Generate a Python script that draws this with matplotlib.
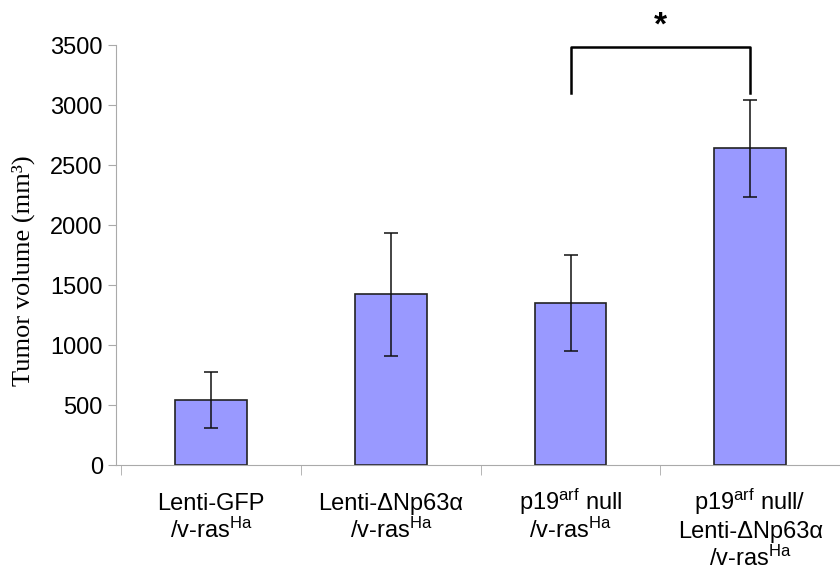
import numpy as np
import matplotlib
matplotlib.use('Agg')
import matplotlib.pyplot as plt

plt.rcParams['font.family'] = ['Liberation Sans', 'DejaVu Sans']
plt.rcParams['mathtext.fontset'] = 'custom'
plt.rcParams['mathtext.rm'] = 'Liberation Sans'
plt.rcParams['mathtext.it'] = 'Liberation Sans:italic'
plt.rcParams['mathtext.bf'] = 'Liberation Sans:bold'

# data
groups = [['Lenti-GFP', '/v-ras$^{\\mathrm{Ha}}$'],
          ['Lenti-\u0394Np63\u03b1', '/v-ras$^{\\mathrm{Ha}}$'],
          ['p19$^{\\mathrm{arf}}$ null', '/v-ras$^{\\mathrm{Ha}}$'],
          ['p19$^{\\mathrm{arf}}$ null/', 'Lenti-\u0394Np63\u03b1', '/v-ras$^{\\mathrm{Ha}}$']]
volume = [544, 1423, 1352, 2640]
err = [233, 512, 398, 403]
yticks = [0, 500, 1000, 1500, 2000, 2500, 3000, 3500]

fig = plt.figure(figsize=(8.4, 5.71), dpi=100)
ax = fig.add_axes([116/840, 106/571, 724/840, 420/571])

x = np.arange(len(groups))
ax.bar(x, volume, width=0.4, color='#9999ff', edgecolor='#222222', linewidth=1.2, zorder=2)
ax.errorbar(x, volume, yerr=err, fmt='none', ecolor='#111111', elinewidth=1.1,
            capsize=5, capthick=1.1, zorder=3)

ax.set_xlim(-0.53, 3.45)
ax.set_ylim(0, 3500)
ax.set_yticks(yticks)
ax.set_yticklabels([str(v) for v in yticks], fontsize=17)
ax.set_xticks([])
ax.set_xticks(np.arange(-0.5, 3.6, 1), minor=True)
ax.tick_params(axis='x', which='minor', length=7, color='#aaaaaa', direction='out')
ax.tick_params(axis='y', length=6, color='#aaaaaa', direction='out')

# category labels, one line at a time so every line keeps the same pitch
for i, lines in enumerate(groups):
    for j, line in enumerate(lines):
        ax.annotate(line, xy=(i, 0), xycoords=('data', 'axes fraction'),
                    xytext=(0, -32.5 - 20.2 * j), textcoords='offset points',
                    ha='center', va='baseline', fontsize=17, annotation_clip=False)

for s in ['top', 'right']:
    ax.spines[s].set_visible(False)
for s in ['left', 'bottom']:
    ax.spines[s].set_color('#aaaaaa')

ax.set_ylabel('Tumor volume (mm\u00b3)', family=['Liberation Serif'], fontsize=19)
ax.yaxis.set_label_coords(-0.112, 0.462)

# significance bracket between the last two groups
ax.plot([2, 2, 3, 3], [3100, 3480, 3480, 3100], color='black', lw=1.8, clip_on=False)
ax.text(2.5, 3660, '*', ha='center', va='center', fontsize=24, fontweight='bold')

fig.savefig('out.png', dpi=100)
